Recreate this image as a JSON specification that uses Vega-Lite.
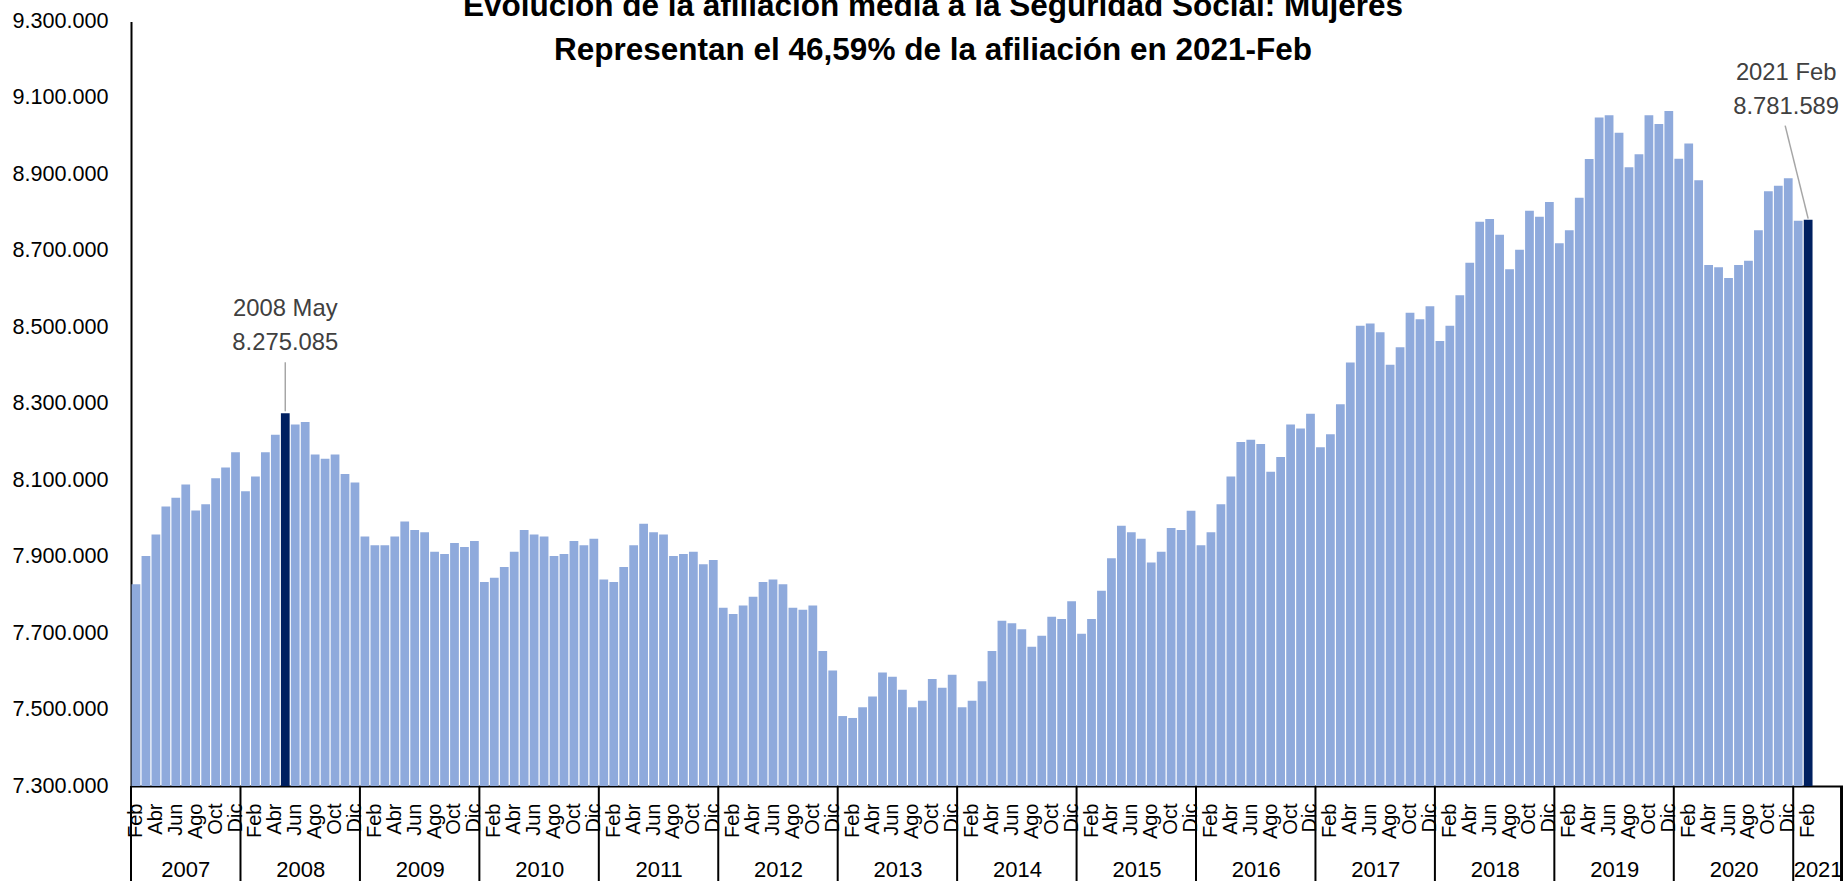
{
  "$schema": "https://vega.github.io/schema/vega-lite/v6.json",
  "autosize": {"type": "none"},
  "padding": {"left": 131, "top": 21.5, "right": 0, "bottom": 95},
  "width": 1712,
  "height": 764.5,
  "background": "white",
  "config": {
    "font": "Liberation Sans",
    "view": {"stroke": null},
    "axis": {"grid": false}
  },
  "title": {
    "text": ["Evolución de la afiliación media a la Seguridad Social: Mujeres", "Representan el 46,59% de la afiliación en 2021-Feb"],
    "font": "Liberation Sans",
    "fontSize": 31.5,
    "fontWeight": "bold",
    "color": "#000000",
    "lineHeight": 44,
    "anchor": "middle",
    "baseline": "alphabetic",
    "offset": -81,
    "dx": -54
  },
  "datasets": {
    "meses": [
      {"mes": "2007-02", "afiliados": 7828000}, {"mes": "2007-03", "afiliados": 7902000}, {"mes": "2007-04", "afiliados": 7958000}, {"mes": "2007-05", "afiliados": 8031000}, {"mes": "2007-06", "afiliados": 8054000}, {"mes": "2007-07", "afiliados": 8089000}, {"mes": "2007-08", "afiliados": 8021000}, {"mes": "2007-09", "afiliados": 8037000}, {"mes": "2007-10", "afiliados": 8105000}, {"mes": "2007-11", "afiliados": 8133000}, {"mes": "2007-12", "afiliados": 8173000},
      {"mes": "2008-01", "afiliados": 8071000}, {"mes": "2008-02", "afiliados": 8110000}, {"mes": "2008-03", "afiliados": 8173000}, {"mes": "2008-04", "afiliados": 8219000}, {"mes": "2008-05", "afiliados": 8275085}, {"mes": "2008-06", "afiliados": 8246000}, {"mes": "2008-07", "afiliados": 8252000}, {"mes": "2008-08", "afiliados": 8167000}, {"mes": "2008-09", "afiliados": 8156000}, {"mes": "2008-10", "afiliados": 8167000}, {"mes": "2008-11", "afiliados": 8116000}, {"mes": "2008-12", "afiliados": 8094000},
      {"mes": "2009-01", "afiliados": 7953000}, {"mes": "2009-02", "afiliados": 7930000}, {"mes": "2009-03", "afiliados": 7930000}, {"mes": "2009-04", "afiliados": 7953000}, {"mes": "2009-05", "afiliados": 7992000}, {"mes": "2009-06", "afiliados": 7970000}, {"mes": "2009-07", "afiliados": 7964000}, {"mes": "2009-08", "afiliados": 7913000}, {"mes": "2009-09", "afiliados": 7907000}, {"mes": "2009-10", "afiliados": 7936000}, {"mes": "2009-11", "afiliados": 7925000}, {"mes": "2009-12", "afiliados": 7941000},
      {"mes": "2010-01", "afiliados": 7834000}, {"mes": "2010-02", "afiliados": 7845000}, {"mes": "2010-03", "afiliados": 7873000}, {"mes": "2010-04", "afiliados": 7913000}, {"mes": "2010-05", "afiliados": 7970000}, {"mes": "2010-06", "afiliados": 7958000}, {"mes": "2010-07", "afiliados": 7953000}, {"mes": "2010-08", "afiliados": 7902000}, {"mes": "2010-09", "afiliados": 7907000}, {"mes": "2010-10", "afiliados": 7941000}, {"mes": "2010-11", "afiliados": 7930000}, {"mes": "2010-12", "afiliados": 7947000},
      {"mes": "2011-01", "afiliados": 7840000}, {"mes": "2011-02", "afiliados": 7834000}, {"mes": "2011-03", "afiliados": 7873000}, {"mes": "2011-04", "afiliados": 7930000}, {"mes": "2011-05", "afiliados": 7986000}, {"mes": "2011-06", "afiliados": 7964000}, {"mes": "2011-07", "afiliados": 7958000}, {"mes": "2011-08", "afiliados": 7902000}, {"mes": "2011-09", "afiliados": 7907000}, {"mes": "2011-10", "afiliados": 7913000}, {"mes": "2011-11", "afiliados": 7880000}, {"mes": "2011-12", "afiliados": 7891000},
      {"mes": "2012-01", "afiliados": 7766000}, {"mes": "2012-02", "afiliados": 7750000}, {"mes": "2012-03", "afiliados": 7772000}, {"mes": "2012-04", "afiliados": 7795000}, {"mes": "2012-05", "afiliados": 7834000}, {"mes": "2012-06", "afiliados": 7840000}, {"mes": "2012-07", "afiliados": 7828000}, {"mes": "2012-08", "afiliados": 7766000}, {"mes": "2012-09", "afiliados": 7761000}, {"mes": "2012-10", "afiliados": 7772000}, {"mes": "2012-11", "afiliados": 7653000}, {"mes": "2012-12", "afiliados": 7602000},
      {"mes": "2013-01", "afiliados": 7483000}, {"mes": "2013-02", "afiliados": 7478000}, {"mes": "2013-03", "afiliados": 7506000}, {"mes": "2013-04", "afiliados": 7534000}, {"mes": "2013-05", "afiliados": 7597000}, {"mes": "2013-06", "afiliados": 7586000}, {"mes": "2013-07", "afiliados": 7552000}, {"mes": "2013-08", "afiliados": 7506000}, {"mes": "2013-09", "afiliados": 7523000}, {"mes": "2013-10", "afiliados": 7580000}, {"mes": "2013-11", "afiliados": 7557000}, {"mes": "2013-12", "afiliados": 7591000},
      {"mes": "2014-01", "afiliados": 7506000}, {"mes": "2014-02", "afiliados": 7523000}, {"mes": "2014-03", "afiliados": 7574000}, {"mes": "2014-04", "afiliados": 7653000}, {"mes": "2014-05", "afiliados": 7732000}, {"mes": "2014-06", "afiliados": 7726000}, {"mes": "2014-07", "afiliados": 7710000}, {"mes": "2014-08", "afiliados": 7664000}, {"mes": "2014-09", "afiliados": 7693000}, {"mes": "2014-10", "afiliados": 7743000}, {"mes": "2014-11", "afiliados": 7737000}, {"mes": "2014-12", "afiliados": 7783000},
      {"mes": "2015-01", "afiliados": 7698000}, {"mes": "2015-02", "afiliados": 7737000}, {"mes": "2015-03", "afiliados": 7811000}, {"mes": "2015-04", "afiliados": 7896000}, {"mes": "2015-05", "afiliados": 7981000}, {"mes": "2015-06", "afiliados": 7964000}, {"mes": "2015-07", "afiliados": 7947000}, {"mes": "2015-08", "afiliados": 7885000}, {"mes": "2015-09", "afiliados": 7913000}, {"mes": "2015-10", "afiliados": 7975000}, {"mes": "2015-11", "afiliados": 7970000}, {"mes": "2015-12", "afiliados": 8020000},
      {"mes": "2016-01", "afiliados": 7930000}, {"mes": "2016-02", "afiliados": 7964000}, {"mes": "2016-03", "afiliados": 8037000}, {"mes": "2016-04", "afiliados": 8110000}, {"mes": "2016-05", "afiliados": 8200000}, {"mes": "2016-06", "afiliados": 8206000}, {"mes": "2016-07", "afiliados": 8195000}, {"mes": "2016-08", "afiliados": 8122000}, {"mes": "2016-09", "afiliados": 8161000}, {"mes": "2016-10", "afiliados": 8246000}, {"mes": "2016-11", "afiliados": 8235000}, {"mes": "2016-12", "afiliados": 8274000},
      {"mes": "2017-01", "afiliados": 8186000}, {"mes": "2017-02", "afiliados": 8220000}, {"mes": "2017-03", "afiliados": 8299000}, {"mes": "2017-04", "afiliados": 8408000}, {"mes": "2017-05", "afiliados": 8504000}, {"mes": "2017-06", "afiliados": 8510000}, {"mes": "2017-07", "afiliados": 8487000}, {"mes": "2017-08", "afiliados": 8402000}, {"mes": "2017-09", "afiliados": 8448000}, {"mes": "2017-10", "afiliados": 8538000}, {"mes": "2017-11", "afiliados": 8521000}, {"mes": "2017-12", "afiliados": 8555000},
      {"mes": "2018-01", "afiliados": 8464000}, {"mes": "2018-02", "afiliados": 8504000}, {"mes": "2018-03", "afiliados": 8584000}, {"mes": "2018-04", "afiliados": 8669000}, {"mes": "2018-05", "afiliados": 8776000}, {"mes": "2018-06", "afiliados": 8783000}, {"mes": "2018-07", "afiliados": 8742000}, {"mes": "2018-08", "afiliados": 8652000}, {"mes": "2018-09", "afiliados": 8703000}, {"mes": "2018-10", "afiliados": 8805000}, {"mes": "2018-11", "afiliados": 8789000}, {"mes": "2018-12", "afiliados": 8828000},
      {"mes": "2019-01", "afiliados": 8720000}, {"mes": "2019-02", "afiliados": 8754000}, {"mes": "2019-03", "afiliados": 8839000}, {"mes": "2019-04", "afiliados": 8940000}, {"mes": "2019-05", "afiliados": 9049000}, {"mes": "2019-06", "afiliados": 9055000}, {"mes": "2019-07", "afiliados": 9009000}, {"mes": "2019-08", "afiliados": 8919000}, {"mes": "2019-09", "afiliados": 8953000}, {"mes": "2019-10", "afiliados": 9055000}, {"mes": "2019-11", "afiliados": 9032000}, {"mes": "2019-12", "afiliados": 9066000},
      {"mes": "2020-01", "afiliados": 8941000}, {"mes": "2020-02", "afiliados": 8981000}, {"mes": "2020-03", "afiliados": 8885000}, {"mes": "2020-04", "afiliados": 8663000}, {"mes": "2020-05", "afiliados": 8657000}, {"mes": "2020-06", "afiliados": 8629000}, {"mes": "2020-07", "afiliados": 8663000}, {"mes": "2020-08", "afiliados": 8674000}, {"mes": "2020-09", "afiliados": 8754000}, {"mes": "2020-10", "afiliados": 8856000}, {"mes": "2020-11", "afiliados": 8870000}, {"mes": "2020-12", "afiliados": 8890000},
      {"mes": "2021-01", "afiliados": 8779000}, {"mes": "2021-02", "afiliados": 8781589}
    ],
    "anios": [
      {"anio": "2007", "primer_mes": "2007-02", "mes_central": "2007-07", "parcial": true},
      {"anio": "2008", "primer_mes": "2008-01", "mes_central": "2008-07", "parcial": false},
      {"anio": "2009", "primer_mes": "2009-01", "mes_central": "2009-07", "parcial": false},
      {"anio": "2010", "primer_mes": "2010-01", "mes_central": "2010-07", "parcial": false},
      {"anio": "2011", "primer_mes": "2011-01", "mes_central": "2011-07", "parcial": false},
      {"anio": "2012", "primer_mes": "2012-01", "mes_central": "2012-07", "parcial": false},
      {"anio": "2013", "primer_mes": "2013-01", "mes_central": "2013-07", "parcial": false},
      {"anio": "2014", "primer_mes": "2014-01", "mes_central": "2014-07", "parcial": false},
      {"anio": "2015", "primer_mes": "2015-01", "mes_central": "2015-07", "parcial": false},
      {"anio": "2016", "primer_mes": "2016-01", "mes_central": "2016-07", "parcial": false},
      {"anio": "2017", "primer_mes": "2017-01", "mes_central": "2017-07", "parcial": false},
      {"anio": "2018", "primer_mes": "2018-01", "mes_central": "2018-07", "parcial": false},
      {"anio": "2019", "primer_mes": "2019-01", "mes_central": "2019-07", "parcial": false},
      {"anio": "2020", "primer_mes": "2020-01", "mes_central": "2020-07", "parcial": false},
      {"anio": "2021", "primer_mes": "2021-01", "mes_central": "2021-03", "parcial": true}
    ],
    "anotaciones": [
      {"mes": "2008-05", "afiliados": 8275085, "linea1": "2008 May", "linea2": "8.275.085"},
      {"mes": "2021-02", "afiliados": 8781589, "linea1": "2021 Feb", "linea2": "8.781.589"}
    ]
  },
  "encoding": {
    "x": {
      "type": "ordinal",
      "scale": {
        "domain": ["2007-02","2007-03","2007-04","2007-05","2007-06","2007-07","2007-08","2007-09","2007-10","2007-11","2007-12",
          "2008-01","2008-02","2008-03","2008-04","2008-05","2008-06","2008-07","2008-08","2008-09","2008-10","2008-11","2008-12",
          "2009-01","2009-02","2009-03","2009-04","2009-05","2009-06","2009-07","2009-08","2009-09","2009-10","2009-11","2009-12",
          "2010-01","2010-02","2010-03","2010-04","2010-05","2010-06","2010-07","2010-08","2010-09","2010-10","2010-11","2010-12",
          "2011-01","2011-02","2011-03","2011-04","2011-05","2011-06","2011-07","2011-08","2011-09","2011-10","2011-11","2011-12",
          "2012-01","2012-02","2012-03","2012-04","2012-05","2012-06","2012-07","2012-08","2012-09","2012-10","2012-11","2012-12",
          "2013-01","2013-02","2013-03","2013-04","2013-05","2013-06","2013-07","2013-08","2013-09","2013-10","2013-11","2013-12",
          "2014-01","2014-02","2014-03","2014-04","2014-05","2014-06","2014-07","2014-08","2014-09","2014-10","2014-11","2014-12",
          "2015-01","2015-02","2015-03","2015-04","2015-05","2015-06","2015-07","2015-08","2015-09","2015-10","2015-11","2015-12",
          "2016-01","2016-02","2016-03","2016-04","2016-05","2016-06","2016-07","2016-08","2016-09","2016-10","2016-11","2016-12",
          "2017-01","2017-02","2017-03","2017-04","2017-05","2017-06","2017-07","2017-08","2017-09","2017-10","2017-11","2017-12",
          "2018-01","2018-02","2018-03","2018-04","2018-05","2018-06","2018-07","2018-08","2018-09","2018-10","2018-11","2018-12",
          "2019-01","2019-02","2019-03","2019-04","2019-05","2019-06","2019-07","2019-08","2019-09","2019-10","2019-11","2019-12",
          "2020-01","2020-02","2020-03","2020-04","2020-05","2020-06","2020-07","2020-08","2020-09","2020-10","2020-11","2020-12",
          "2021-01","2021-02","2021-03","2021-04","2021-05"],
        "paddingInner": 0.12,
        "paddingOuter": 0.06
      }
    }
  },
  "layer": [
    {
      "data": {"name": "meses"},
      "mark": {"type": "bar"},
      "encoding": {
        "x": {
          "field": "mes",
          "type": "ordinal",
          "axis": {
            "title": null,
            "domainColor": "#000000",
            "domainWidth": 2,
            "ticks": false,
            "labelAngle": -90,
            "labelAlign": "right",
            "labelBaseline": "middle",
            "labelPadding": 17,
            "labelFontSize": 20,
            "labelColor": "#000000",
            "labelOverlap": false,
            "labelBound": false,
            "labelFlush": false,
            "labelExpr": "datum.value > '2021-02' ? '' : ['','','Feb','','Abr','','Jun','','Ago','','Oct','','Dic'][toNumber(slice(datum.value, 5))]"
          }
        },
        "y": {
          "field": "afiliados",
          "type": "quantitative",
          "scale": {"domain": [7300000, 9300000], "zero": false, "nice": false},
          "axis": {
            "title": null,
            "values": [7300000, 7500000, 7700000, 7900000, 8100000, 8300000, 8500000, 8700000, 8900000, 9100000, 9300000],
            "domainColor": "#000000",
            "domainWidth": 2,
            "ticks": false,
            "grid": false,
            "labelFontSize": 21.6,
            "labelPadding": 23,
            "labelColor": "#000000",
            "labelExpr": "replace(format(datum.value, ',d'), /,/g, '.')"
          }
        },
        "y2": {"datum": 7300000},
        "color": {
          "condition": {"test": "datum.mes == '2008-05' || datum.mes == '2021-02'", "value": "#002060"},
          "value": "#8FAADC"
        }
      }
    },
    {
      "mark": {"type": "rule", "color": "#2F4A7A", "strokeWidth": 2},
      "encoding": {"y": {"datum": 8275085, "type": "quantitative"}}
    },
    {
      "data": {"name": "anios"},
      "mark": {"type": "rule", "color": "#000000", "strokeWidth": 2, "xOffset": -0.6, "y2Offset": 95},
      "encoding": {
        "x": {"field": "primer_mes", "type": "ordinal", "bandPosition": 0},
        "y": {"datum": 7300000, "type": "quantitative"},
        "y2": {"datum": 7300000}
      }
    },
    {
      "data": {"name": "anios"},
      "mark": {"type": "rule", "color": "#000000", "strokeWidth": 2, "xOffset": -0.6, "y2Offset": 95},
      "encoding": {
        "x": {"datum": "2021-05", "type": "ordinal", "bandPosition": 1},
        "y": {"datum": 7300000, "type": "quantitative"},
        "y2": {"datum": 7300000}
      }
    },
    {
      "data": {"name": "anios"},
      "transform": [{"filter": "!datum.parcial"}],
      "mark": {"type": "text", "fontSize": 22, "color": "#000000", "baseline": "middle", "align": "center", "dy": 84},
      "encoding": {
        "x": {"field": "mes_central", "type": "ordinal", "bandPosition": 0},
        "y": {"datum": 7300000, "type": "quantitative"},
        "text": {"field": "anio"}
      }
    },
    {
      "data": {"name": "anios"},
      "transform": [{"filter": "datum.parcial"}],
      "mark": {"type": "text", "fontSize": 22, "color": "#000000", "baseline": "middle", "align": "center", "dy": 84},
      "encoding": {
        "x": {"field": "mes_central", "type": "ordinal", "bandPosition": 0.5},
        "y": {"datum": 7300000, "type": "quantitative"},
        "text": {"field": "anio"}
      }
    },
    {
      "data": {"name": "anotaciones"},
      "transform": [{"filter": "datum.mes == '2008-05'"}],
      "mark": {"type": "rule", "color": "#A6A6A6", "strokeWidth": 1.5, "yOffset": -2, "y2Offset": -51},
      "encoding": {
        "x": {"field": "mes", "type": "ordinal"},
        "y": {"field": "afiliados", "type": "quantitative"},
        "y2": {"field": "afiliados"}
      }
    },
    {
      "data": {"name": "anotaciones"},
      "transform": [{"filter": "datum.mes == '2021-02'"}],
      "mark": {"type": "rule", "color": "#A6A6A6", "strokeWidth": 1.5, "yOffset": -1, "x2Offset": -23, "y2Offset": -94},
      "encoding": {
        "x": {"field": "mes", "type": "ordinal"},
        "y": {"field": "afiliados", "type": "quantitative"},
        "x2": {"field": "mes"},
        "y2": {"field": "afiliados"}
      }
    },
    {
      "data": {"name": "anotaciones"},
      "transform": [{"filter": "datum.mes == '2008-05'"}],
      "mark": {"type": "text", "fontSize": 23.8, "color": "#404040", "baseline": "middle", "align": "center", "dy": -104},
      "encoding": {
        "x": {"field": "mes", "type": "ordinal"},
        "y": {"field": "afiliados", "type": "quantitative"},
        "text": {"field": "linea1"}
      }
    },
    {
      "data": {"name": "anotaciones"},
      "transform": [{"filter": "datum.mes == '2008-05'"}],
      "mark": {"type": "text", "fontSize": 23.8, "color": "#404040", "baseline": "middle", "align": "center", "dy": -70},
      "encoding": {
        "x": {"field": "mes", "type": "ordinal"},
        "y": {"field": "afiliados", "type": "quantitative"},
        "text": {"field": "linea2"}
      }
    },
    {
      "data": {"name": "anotaciones"},
      "transform": [{"filter": "datum.mes == '2021-02'"}],
      "mark": {"type": "text", "fontSize": 23.8, "color": "#404040", "baseline": "middle", "align": "center", "dx": -22, "dy": -147},
      "encoding": {
        "x": {"field": "mes", "type": "ordinal"},
        "y": {"field": "afiliados", "type": "quantitative"},
        "text": {"field": "linea1"}
      }
    },
    {
      "data": {"name": "anotaciones"},
      "transform": [{"filter": "datum.mes == '2021-02'"}],
      "mark": {"type": "text", "fontSize": 23.8, "color": "#404040", "baseline": "middle", "align": "center", "dx": -22, "dy": -113},
      "encoding": {
        "x": {"field": "mes", "type": "ordinal"},
        "y": {"field": "afiliados", "type": "quantitative"},
        "text": {"field": "linea2"}
      }
    }
  ]
}
